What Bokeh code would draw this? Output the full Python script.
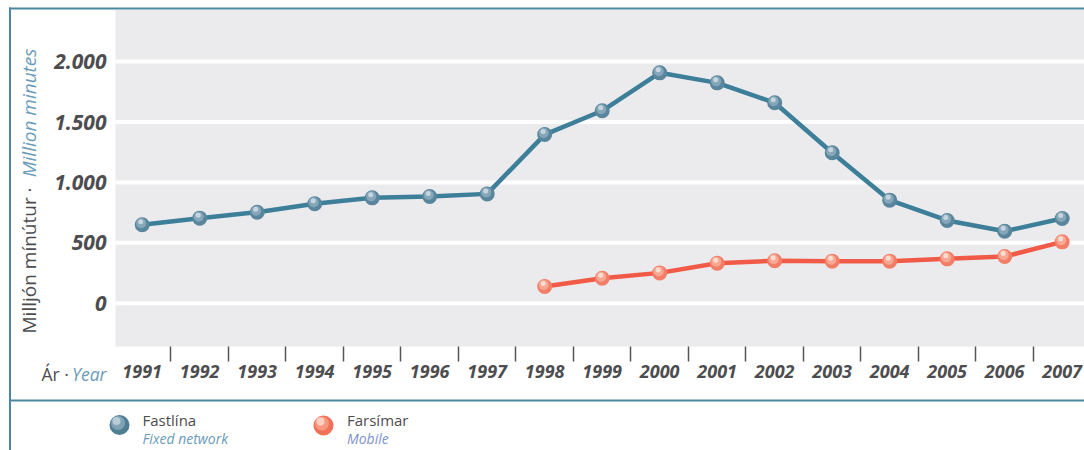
import numpy as np
from bokeh.plotting import figure
from bokeh.models import (ColumnDataSource, Range1d, FixedTicker, Label, BoxAnnotation,
                          LinearAxis)
from bokeh.transform import dodge
from bokeh.embed import file_html
from bokeh.resources import INLINE

# ---------------- data ----------------
years = list(range(1991, 2008))
fixed_network = [649, 704, 753, 823, 872, 883, 905, 1396, 1593, 1907,
                 1824, 1659, 1245, 853, 685, 596, 701]
mobile_years = list(range(1998, 2008))
mobile = [138, 207, 251, 331, 351, 348, 348, 367, 387, 508]
y_ticks = [0, 500, 1000, 1500, 2000]
y_tick_labels = ["0", "500", "1.000", "1.500", "2.000"]
x_tick_labels = [str(y) for y in years]

# ---------------- layout (pixel -> data helpers) ----------------
W, H = 1084, 450
GL, GR, GT, GB = 115, 1084, 9.5, 346       # grey plotting area, in pixels
PX_YEAR = 57.5
X0 = 1991 - 141.7 / PX_YEAR
X1 = X0 + W / PX_YEAR
Y_ZERO_PX = 302.7
PX_PER_UNIT = 60.4 / 500
Y1 = Y_ZERO_PX / PX_PER_UNIT
Y0 = (Y_ZERO_PX - H) / PX_PER_UNIT


def px(x):
    return X0 + x / PX_YEAR


def py(y):
    return (Y_ZERO_PX - y) / PX_PER_UNIT


TEAL = "#3d7f99"
RED = "#f15a46"
DARK = "#4d4d4f"
BLUE_TXT = "#6a9bb9"
MOBILE_TXT = "#7f93cc"
BORDER = "#4a87a0"
FONT = "Open Sans"

p = figure(width=W, height=H, x_range=Range1d(X0, X1), y_range=Range1d(Y0, Y1),
           output_backend="svg", toolbar_location=None,
           x_axis_type=None, y_axis_type=None,
           min_border=0, min_border_left=0, min_border_right=0,
           min_border_top=0, min_border_bottom=0,
           background_fill_color="white", border_fill_color="white",
           outline_line_color=None)

# grey plotting area
p.add_layout(BoxAnnotation(left=px(GL), right=px(GR), top=py(GT), bottom=py(GB),
                           fill_color="#ebebed", fill_alpha=1, line_color=None,
                           level="image"))

# horizontal grid lines at the y ticks
p.segment(x0=px(GL), x1=px(GR), y0=y_ticks, y1=y_ticks, line_color="white",
          line_width=4, level="underlay")

# x axis (fixed at the bottom of the grey area)
xa = LinearAxis(fixed_location=py(GB))
xa.ticker = FixedTicker(ticks=years, minor_ticks=[y + 0.5 for y in years[:-1]])
xa.axis_line_color = None
xa.major_tick_line_color = None
xa.major_tick_out = 15
xa.major_tick_in = 0
xa.minor_tick_out = 15
xa.minor_tick_in = 0
xa.minor_tick_line_color = "#555555"
xa.minor_tick_line_width = 1.5
xa.major_label_standoff = 3
xa.major_label_overrides = {y: s for y, s in zip(years, x_tick_labels)}
xa.major_label_text_font = FONT
xa.major_label_text_font_style = "bold italic"
xa.major_label_text_font_size = "18px"
xa.major_label_text_color = DARK
p.add_layout(xa, "below")

# y axis (fixed at the left of the grey area)
ya = LinearAxis(fixed_location=px(GL))
ya.ticker = FixedTicker(ticks=y_ticks)
ya.major_label_overrides = {t: s for t, s in zip(y_ticks, y_tick_labels)}
ya.axis_line_color = None
ya.major_tick_line_color = None
ya.minor_tick_line_color = None
ya.major_tick_out = 0
ya.major_tick_in = 0
ya.major_label_standoff = 9
ya.major_label_text_font = FONT
ya.major_label_text_font_style = "bold italic"
ya.major_label_text_font_size = "21px"
ya.major_label_text_color = DARK
p.add_layout(ya, "left")

# series
src_f = ColumnDataSource(dict(x=years, y=fixed_network))
src_m = ColumnDataSource(dict(x=mobile_years, y=mobile))

p.line("x", "y", source=src_f, line_width=4.5, line_color=TEAL)
p.line("x", "y", source=src_m, line_width=4.5, line_color=RED)


def spheres(src, base, mid, hi):
    p.scatter("x", "y", source=src, size=15, fill_color=base, line_color=None)
    p.scatter(dodge("x", -1.0 / PX_YEAR), dodge("y", 1.5 / PX_PER_UNIT), source=src,
              size=10, fill_color=mid, line_color=None)
    p.scatter(dodge("x", -1.5 / PX_YEAR), dodge("y", 3.0 / PX_PER_UNIT), source=src,
              size=5, fill_color=hi, line_color=None)


spheres(src_f, "#5a869d", "#86a7b9", "#c5d5df")
spheres(src_m, "#f27e68", "#f8a793", "#fddcd1")


# frame lines
def box(l, r, t, b, color):
    p.add_layout(BoxAnnotation(left=px(l), right=px(r), top=py(t), bottom=py(b),
                               fill_color=color, fill_alpha=1, line_color=None,
                               level="overlay"))


box(8.5, 10.5, 7, 450, BORDER)
box(8.5, 1084, 7, 9, BORDER)
box(8.5, 1084, 399, 401, BORDER)


def sphere_ann(cx, cy, base, mid, hi):
    for (dx, dy, rr, c) in [(0, 0, 10, base), (-1.5, -2, 7, mid), (-3, -4, 4, hi)]:
        p.add_layout(BoxAnnotation(left=px(cx + dx - rr), right=px(cx + dx + rr),
                                   top=py(cy + dy - rr), bottom=py(cy + dy + rr),
                                   fill_color=c, fill_alpha=1, line_color=None,
                                   border_radius=rr, level="overlay"))


sphere_ann(119, 424.5, "#4f7d94", "#7fa2b5", "#b9cdd8")
sphere_ann(323, 425, "#f26f58", "#f7987f", "#fdd0c2")


def label(x, y, text, size, color, style="normal", align="left", angle=0.0):
    p.add_layout(Label(x=px(x), y=py(y), text=text, text_font=FONT, text_font_size=size,
                       text_font_style=style, text_color=color, text_align=align,
                       text_baseline="middle", angle=angle))


# legend texts
label(142, 419.5, "Fastlína", "15px", DARK)
label(142, 437.5, "Fixed network", "14px", BLUE_TXT, "italic")
label(346.5, 419.5, "Farsímar", "15px", DARK)
label(346.5, 437.5, "Mobile", "14px", MOBILE_TXT, "italic")

# axis titles
label(41, 373, "Ár · ", "17.5px", DARK)
label(106, 373, "Year", "17.5px", BLUE_TXT, "italic", align="right")
label(28, 333, "Milljón mínútur · ", "19px", DARK, angle=np.pi / 2)
label(28, 48, "Million minutes", "19px", BLUE_TXT, "italic", align="right", angle=np.pi / 2)

open("out.html", "w").write(file_html(p, INLINE))
